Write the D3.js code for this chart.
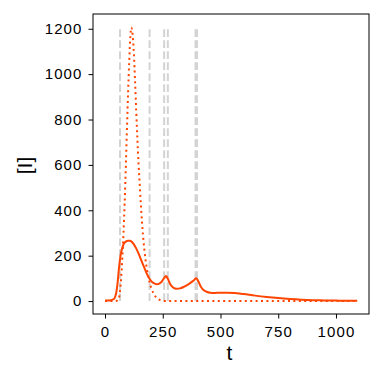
<!DOCTYPE html>
<html>
<head>
<meta charset="utf-8">
<script src="https://cdn.jsdelivr.net/npm/d3@7"></script>
<style>
  body { margin: 0; background: #fff; }
  svg { display: block; font-family: "Liberation Sans", Arial, sans-serif; }
</style>
</head>
<body>
<div id="chart"></div>
<script>
// solid curve [I]
const tSolid = [0, 20, 40, 45, 50, 55, 60, 65, 70, 75, 80, 90, 100, 108, 115, 125, 135, 145, 155, 165, 175, 185, 195, 205, 215, 225, 235, 245, 255, 264, 272, 282, 295, 310, 325, 340, 355, 370, 385, 395, 405, 415, 425, 440, 455, 475, 500, 530, 560, 600, 650, 700, 750, 800, 850, 900, 950, 1000, 1050, 1092];
const iSolid = [2, 3, 10, 22, 45, 85, 140, 185, 215, 235, 250, 262, 266, 266, 262, 250, 232, 210, 185, 160, 135, 112, 95, 83, 77, 74, 77, 85, 100, 110, 98, 75, 60, 54, 56, 62, 70, 80, 92, 100, 85, 63, 50, 41, 37, 36, 37, 37, 36, 31, 24, 18, 13, 9, 6, 4, 3, 2, 1, 1];

// dotted curve
const tDotted = [0, 40, 50, 55, 60, 65, 70, 75, 80, 85, 90, 95, 100, 105, 110, 114, 119, 125, 130, 135, 140, 145, 150, 155, 160, 170, 180, 190, 200, 210, 220, 230, 240, 250, 260, 300, 400, 500, 600, 700, 800, 900, 1000, 1092];
const iDotted = [0, 0, 1, 4, 12, 45, 105, 190, 300, 430, 590, 760, 920, 1060, 1170, 1205, 1180, 1090, 970, 840, 720, 610, 520, 430, 350, 230, 150, 95, 58, 34, 18, 9, 4, 1, 0, 0, 0, 0, 0, 0, 0, 0, 0, 0];

// event markers
const eventTimes = [65, 193, 256, 272, 392, 398];

const xTicks = [0, 250, 500, 750, 1000];
const yTicks = [0, 200, 400, 600, 800, 1000, 1200];

const width = 384, height = 384;
const margin = { left: 93, right: 369, top: 14, bottom: 314 };
const color = "#ff4500";

const svg = d3.select("#chart").append("svg")
    .attr("width", width)
    .attr("height", height);

const x = d3.scaleLinear().domain([-52, 1143]).range([margin.left, margin.right]);
const y = d3.scaleLinear().domain([-57, 1265]).range([margin.bottom, margin.top]);

// vertical dashed lines
svg.append("g")
    .selectAll("line")
    .data(eventTimes)
    .join("line")
    .attr("x1", d => x(d))
    .attr("x2", d => x(d))
    .attr("y1", y(0))
    .attr("y2", y(1200))
    .attr("stroke", "#d3d3d3")
    .attr("stroke-width", 2)
    .attr("stroke-dasharray", "7.7,3.3");

const line = d3.line()
    .x(d => x(d[0]))
    .y(d => y(d[1]))
    .curve(d3.curveMonotoneX);

svg.append("path")
    .datum(d3.zip(tDotted, iDotted))
    .attr("d", line)
    .attr("fill", "none")
    .attr("stroke", color)
    .attr("stroke-width", 2)
    .attr("stroke-dasharray", "2,3.4");

svg.append("path")
    .datum(d3.zip(tSolid, iSolid))
    .attr("d", line)
    .attr("fill", "none")
    .attr("stroke", color)
    .attr("stroke-width", 2);

// axes
const xAxis = svg.append("g")
    .attr("transform", `translate(0,${margin.bottom})`)
    .call(d3.axisBottom(x).tickValues(xTicks).tickSize(4.5).tickPadding(8).tickFormat(d3.format("d")));

const yAxis = svg.append("g")
    .attr("transform", `translate(${margin.left},0)`)
    .call(d3.axisLeft(y).tickValues(yTicks).tickSize(4.5).tickPadding(6).tickFormat(d3.format("d")));

[xAxis, yAxis].forEach(g => {
    g.select(".domain").remove();
    g.selectAll("line").attr("stroke", "#000").attr("stroke-width", 1);
    g.selectAll("text").attr("font-size", 15).attr("fill", "#000")
        .attr("letter-spacing", 1.1)
        .attr("font-family", "'Liberation Sans', Arial, sans-serif");
});

// frame
svg.append("rect")
    .attr("x", margin.left)
    .attr("y", margin.top)
    .attr("width", margin.right - margin.left)
    .attr("height", margin.bottom - margin.top)
    .attr("fill", "none")
    .attr("stroke", "#000")
    .attr("stroke-width", 1);

// axis labels
svg.append("text")
    .attr("x", 229.5)
    .attr("y", 360)
    .attr("text-anchor", "middle")
    .attr("font-size", 21)
    .text("t");

svg.append("text")
    .attr("transform", `translate(31.5,165.5) rotate(-90)`)
    .attr("text-anchor", "middle")
    .attr("font-size", 21)
    .text("[I]");
</script>
</body>
</html>
